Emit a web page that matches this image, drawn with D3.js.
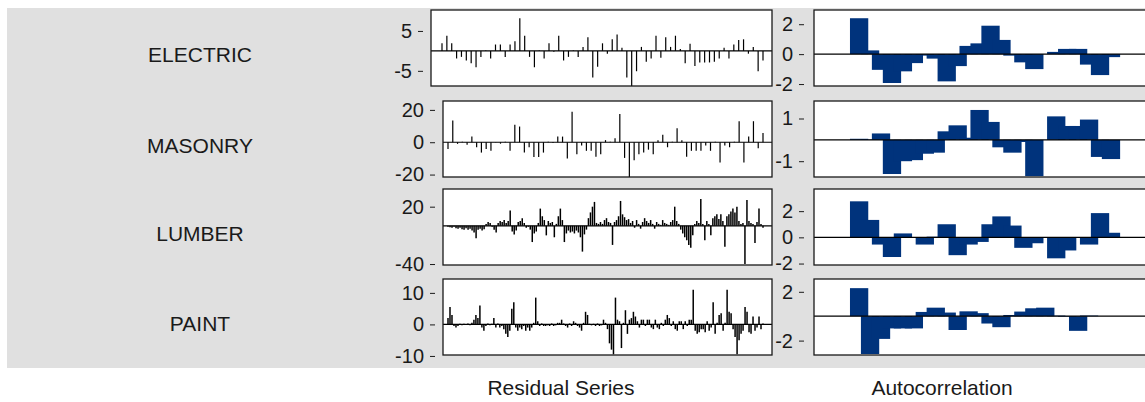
<!DOCTYPE html>
<html>
<head>
<meta charset="utf-8">
<script src="https://cdn.jsdelivr.net/npm/d3@7"></script>
<style>
  body { margin: 0; background: #fff; }
  text { font-family: "Liberation Sans", Arial, sans-serif; fill: #1a1a1a; }
</style>
</head>
<body>
<svg id="chart" width="1145" height="402"></svg>
<script>
// row names
const seriesNames = ["ELECTRIC", "MASONRY", "LUMBER", "PAINT"]

// residual series
const electricResid = [1.9, 3.8, 1.9, -1.9, -1.5, -2.4, -3.1, -4.1, -1.5, 0.1, -1.9, 1.6, 1.6, -1.5, 1.6, 2.4,
  8.2, 3.8, -1.5, -4.1, 0.1, -1.9, 1.9, -0.2, 3.8, -2.4, -1.5, 0.1, -1.5, 1.0, 3.4, -6.7, -4.0, 1.9, -0.7,
  2.9, 4.1, 0.8, -6.7, -8.8, -5.1, 1.0, -2.7, -1.9, 3.8, -1.7, 3.4, 1.0, 3.8, 0.5, -3.1, 1.8, -3.8, -2.9,
  -2.9, -2.9, -2.7, -1.9, 0.8, -1.9, 1.6, 2.7, 2.9, -0.7, 1.0, -5.1, -2.4]
const masonryResid = [-4.2, 13.4, -1.0, 0.3, -1.5, 3.5, -3.1, -6.4, -4.2, -5.3, 0.2, -0.9, 0.3, -5.3, 10.8,
  9.7, -6.4, -3.1, -9.2, -9.2, -6.4, 0.3, -0.5, 3.5, 3.5, -10.1, 18.9, -7.5, -2.0, -5.3, -5.3, -9.0, -7.5,
  1.3, 0.3, 2.4, 17.4, -9.7, -21.5, -11.2, -7.5, -6.4, -4.6, -7.5, 1.3, 4.6, -3.1, 0.3, 8.6, 1.3, -9.0,
  -5.3, -5.3, -5.3, -2.0, -5.3, 0.3, -12.5, -2.0, -3.1, 0.3, 13, -12.5, 3.5, 13, -3.7, 5.7]
const lumberResid = [-1, -1.5, -2, -1, -2.5, -3, -2, -3.5, -4, -2.5, -4, -3, -5, -7, -13, -4, -3, -5, -3.5,
  2, 4, 3, -1, -4, -7, 3, 5, 4, 6, 3, 5, 16, -6, -9, -5, 4, 5, 8, 3, -2, -1, -4, -17, -8, -6, 3, 18, 10, 6,
  -10, 5, 3, 4, -12, 2, 10, 18, 6, -17, -8, -5, -7, -6, -8, -5, -7, -12, -27, -9, -4, 8, 14, 20, 25, 3, 2,
  4, 2, 6, 8, 4, 3, -20, 4, 6, 10, 26, 12, 9, 6, 7, 3, 5, -2, 6, 2, -3, 4, 8, 5, 3, 6, 2, -3, 4, 2, 1, 6,
  3, 2, 1, 4, 6, 20, 5, 2, -4, -8, -12, -15, -20, -23, -10, 2, 5, 3, 28, 2, -15, 5, 2, -10, 8, 10, 12, 7,
  12, 5, -22, 10, 12, 15, 18, 14, 20, 5, 2, 3, -40, 27, 5, 3, 2, -18, 4, 18, 2, -2]
const paintResid = [2, 5.5, 3, -0.5, -1, -0.5, 0.2, -0.3, 0.2, -0.2, 0.3, -0.3, 0.5, 1.5, 3, 2, 6, -1, -2,
  -0.5, 0.3, -0.3, 0.2, 2, -1, 0.3, -1, -0.5, -1.5, -3, -4, -2, 5, 7, -1, -2, -1, -1.5, -0.5, -2, -1, -2,
  -1, 0.5, 8.5, 1, -0.5, 0.3, -0.5, -0.5, -0.3, -0.5, 0.3, -0.5, -0.3, 0.5, 0.5, 1.5, 0.3, -0.5, -1, 0.3,
  -0.5, 1, 0.5, -0.5, -1, -2, 0.5, 4, 3, 0.2, -0.3, 0.2, -0.5, 0.3, -0.5, -0.3, 1.5, 0.5, -1.5, -6, -8,
  -9.5, 8.5, 1.5, 1, -7.5, 0.5, 4.5, -3, 1.5, 2, 4, 2.5, 1, -1, 1.5, 1.5, -0.5, 1.5, 1.5, -1, -1.5, 1.5,
  -1, -1.5, 0.5, -0.5, 1.5, 3, 2, -0.5, 1, -1.5, -2, 1, 1, -1.5, 1, -0.5, 1.5, 1.5, 11, -2, -3, -2.5,
  -1.5, -1.5, -2.5, 1, -2, -1, 7, -3, 0.5, 3, 3.5, -2, 0.5, 11, 4, 3.5, -1.5, -4, -9.5, -5, -3, -2, 5.5,
  4, -2.5, -3, 2.5, -2, -1, 2.5, -1.5, 0.3]

// standardized autocorrelations, lags 1..24
const electricAcf = [2.4, 0.25, -1.05, -1.93, -1.15, -0.6, -0.1, -0.3, -1.82, -0.8, 0.55, 0.72, 1.9,
  0.95, -0.1, -0.55, -1.0, 0.0, 0.15, 0.35, 0.35, -0.7, -1.4, -0.2]
const masonryAcf = [0.05, 0.02, 0.3, -1.6, -1.0, -0.95, -0.65, -0.6, 0.4, 0.68, 0.1, 1.4, 0.84, -0.35,
  -0.6, -0.1, -1.7, 0.0, 1.1, 0.65, 0.65, 0.95, -0.8, -0.9]
const lumberAcf = [2.75, 1.33, -0.55, -1.5, 0.3, 0.0, -0.55, 0.05, 1.0, -1.36, -0.55, -0.35, 1.0, 1.6,
  0.9, -0.8, -0.45, 0.0, -1.6, -1.0, 0.0, -0.55, 1.85, 0.35]
const paintAcf = [2.3, -3.1, -1.86, -1.0, -1.0, -1.0, 0.35, 0.7, 0.3, -1.13, 0.4, 0.25, -0.6, -0.9, 0.1,
  0.38, 0.65, 0.7, 0.05, -0.05, -1.2, 0.05, 0, 0]

// axis ranges and tick labels as printed
const residDomains = [[-8.8, 10.25], [-21.5, 25.5], [-41, 38.5], [-9.7, 14.4]]
const residTicks = [[-5, 5], [-20, 0, 20], [-40, 20], [-10, 0, 10]]
const acfDomains = [[-2.13, 2.95], [-1.74, 1.82], [-2.11, 3.69], [-3.18, 3.05]]
const acfTicks = [[-2, 0, 2], [-1, 1], [-2, 0, 2], [-2, 2]]
const acfLags = d3.range(1, 25)

const residData = [electricResid, masonryResid, lumberResid, paintResid]
const acfData = [electricAcf, masonryAcf, lumberAcf, paintAcf]

// layout
const frameTop = [10, 101, 189, 279]
const frameH = 76
const residLeft = [431, 443, 443, 443]
const residRight = 772
const acfLeft = 814, acfRight = 1155
const barColor = "#00337c"

const svg = d3.select("#chart")

svg.append("rect")
  .attr("x", 7).attr("y", 8)
  .attr("width", 1145).attr("height", 360)
  .attr("fill", "#e0e0e0")

const defs = svg.append("defs")

const drawAxis = (g, y, ticks, axisX) => {
  const ax = g.append("g")
    .attr("transform", `translate(${axisX},0)`)
    .call(d3.axisLeft(y).tickValues(ticks).tickSize(5).tickPadding(6).tickFormat(d => String(d)))
  ax.select(".domain").remove()
  ax.selectAll("line").attr("stroke", "#1a1a1a")
  ax.selectAll("text").attr("font-size", 20).attr("fill", "#1a1a1a")
    .style("font-family", '"Liberation Sans", Arial, sans-serif')
}

seriesNames.forEach((name, r) => {
  const top = frameTop[r], bottom = top + frameH
  const g = svg.append("g")

  // row label
  g.append("text")
    .attr("x", 200).attr("y", top + frameH / 2 + 13.5)
    .attr("text-anchor", "middle")
    .attr("font-size", 21)
    .text(name)

  // ---- residual series ----
  const left = residLeft[r]
  const vals = residData[r]
  const x = d3.scaleLinear().domain([0, vals.length - 1]).range([left + 11 - (r ? 6 : 0), residRight - 9])
  const y = d3.scaleLinear().domain(residDomains[r]).range([bottom, top])
  const dense = vals.length > 100

  g.append("rect")
    .attr("x", left).attr("y", top)
    .attr("width", residRight - left).attr("height", frameH)
    .attr("fill", "#fff")

  g.append("line")
    .attr("x1", left).attr("x2", residRight)
    .attr("y1", y(0)).attr("y2", y(0))
    .attr("stroke", "#000").attr("stroke-width", 1.2)

  g.append("g")
    .selectAll("line")
    .data(vals)
    .join("line")
    .attr("x1", (d, i) => x(i)).attr("x2", (d, i) => x(i))
    .attr("y1", y(0)).attr("y2", d => y(d))
    .attr("stroke", "#000").attr("stroke-width", dense ? 1.5 : 1.2)

  g.append("rect")
    .attr("x", left).attr("y", top)
    .attr("width", residRight - left).attr("height", frameH)
    .attr("fill", "none").attr("stroke", "#1a1a1a").attr("stroke-width", 1.3)

  drawAxis(g, y, residTicks[r], left - 8)

  // ---- autocorrelation ----
  const xa = d3.scaleLinear().domain([-3.12, 28.02]).range([acfLeft, acfRight])
  const ya = d3.scaleLinear().domain(acfDomains[r]).range([bottom, top])
  const barW = xa(1.67) - xa(0)

  defs.append("clipPath").attr("id", `clip${r}`)
    .append("rect")
    .attr("x", acfLeft).attr("y", top)
    .attr("width", acfRight - acfLeft).attr("height", frameH)

  g.append("rect")
    .attr("x", acfLeft).attr("y", top)
    .attr("width", acfRight - acfLeft).attr("height", frameH)
    .attr("fill", "#fff")

  g.append("g")
    .attr("clip-path", `url(#clip${r})`)
    .selectAll("rect")
    .data(acfData[r])
    .join("rect")
    .attr("x", (d, i) => xa(acfLags[i]) - barW / 2)
    .attr("width", barW)
    .attr("y", d => Math.min(ya(d), ya(0)))
    .attr("height", d => Math.abs(ya(d) - ya(0)))
    .attr("fill", barColor)

  g.append("line")
    .attr("x1", acfLeft).attr("x2", acfRight)
    .attr("y1", ya(0)).attr("y2", ya(0))
    .attr("stroke", "#000").attr("stroke-width", 1.2)

  g.append("rect")
    .attr("x", acfLeft).attr("y", top)
    .attr("width", acfRight - acfLeft).attr("height", frameH)
    .attr("fill", "none").attr("stroke", "#1a1a1a").attr("stroke-width", 1.3)

  drawAxis(g, ya, acfTicks[r], acfLeft - 10)
})

// column titles
svg.append("text")
  .attr("x", 561).attr("y", 395)
  .attr("text-anchor", "middle").attr("font-size", 21)
  .text("Residual Series")
svg.append("text")
  .attr("x", 942).attr("y", 395)
  .attr("text-anchor", "middle").attr("font-size", 21)
  .text("Autocorrelation")
</script>
</body>
</html>
